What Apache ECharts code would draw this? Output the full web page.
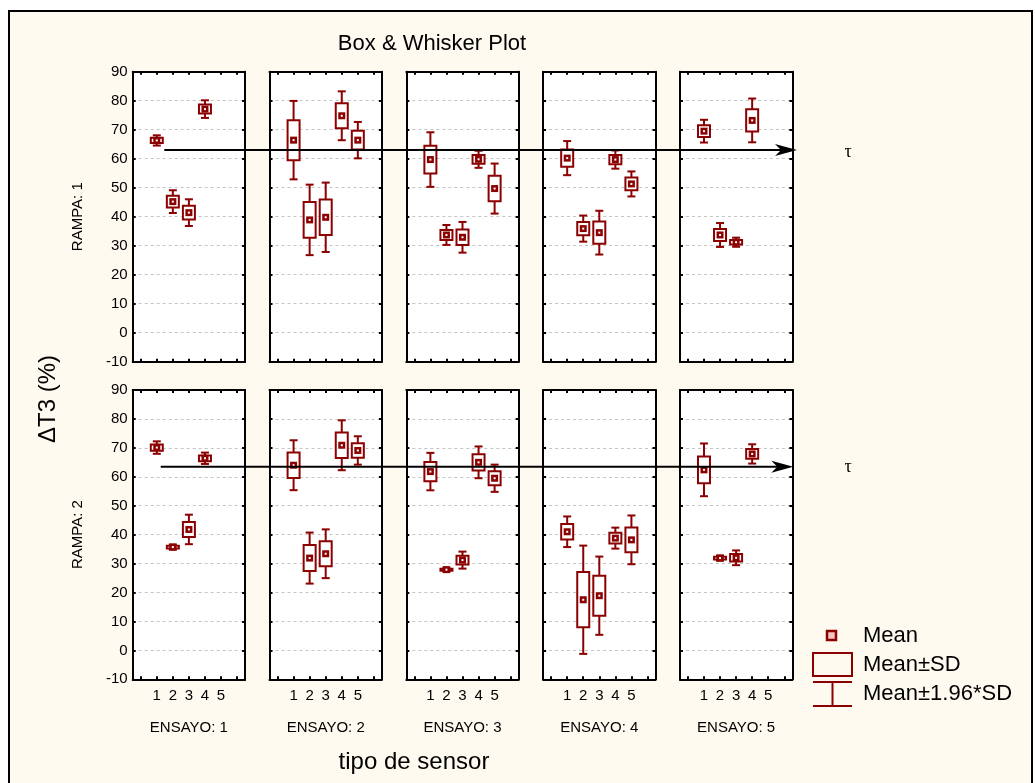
<!DOCTYPE html>
<html>
<head>
<meta charset="utf-8">
<script src="https://cdn.jsdelivr.net/npm/echarts@6/dist/echarts.min.js"></script>
<style>
html, body { margin: 0; padding: 0; background: #fff; }
#marco { position: absolute; left: 8px; top: 10px; width: 1021px; height: 800px; border: 2px solid #000; background: #fffaf0; }
#chart { position: absolute; left: 0; top: 0; width: 1035px; height: 783px; }
</style>
</head>
<body>
<div id="marco"></div>
<div id="chart"></div>
<script>
// Box & Whisker: media y desviación estándar por sensor
var sensores = ['0', '1', '2', '3', '4', '5', '6'];   // 0 y 6 son huecos en los bordes
var ensayos = ['ENSAYO: 1', 'ENSAYO: 2', 'ENSAYO: 3', 'ENSAYO: 4', 'ENSAYO: 5'];
var rampas = ['RAMPA: 1', 'RAMPA: 2'];
var yMin = -10, yMax = 90, yPaso = 10;
var tau = [63, 63.5];

// filas = ensayo, columnas = sensor 1..5
var media1 = [
    [66.3, 45.2, 41.4, 77.1, null],
    [66.4, 38.9, 39.8, 74.8, 66.4],
    [59.7, 33.7, 32.9, 59.8, 49.7],
    [60.2, 35.9, 34.5, 59.7, 51.3],
    [69.5, 33.7, 31.2, 73.2, null]
];
var de1 = [
    [0.9, 2.0, 2.35, 1.55, null],
    [6.9, 6.2, 6.1, 4.3, 3.2],
    [4.8, 1.75, 2.7, 1.5, 4.4],
    [3.0, 2.3, 3.85, 1.6, 2.2],
    [2.0, 2.1, 0.8, 3.85, null]
];
var media2 = [
    [70.1, 35.7, 41.8, 66.4, null],
    [64.0, 31.9, 33.4, 70.9, 69.1],
    [61.8, 27.9, 31.2, 65.0, 59.5],
    [41.0, 17.5, 18.9, 38.8, 38.2],
    [62.4, 31.9, 32.0, 67.9, null]
];
var de2 = [
    [1.1, 0.45, 2.6, 1.0, null],
    [4.4, 4.5, 4.3, 4.4, 2.5],
    [3.3, 0.35, 1.5, 2.8, 2.4],
    [2.7, 9.55, 6.9, 1.85, 4.3],
    [4.65, 0.45, 1.3, 1.7, null]
];
var medias = [media1, media2];
var des = [de1, de2];

(function () {
    var myChart = echarts.init(document.getElementById('chart'));
    var rojo = '#8b0000';
    var fuente = 'Liberation Sans, Arial, sans-serif';
    var filaTop = [71.7, 390], filaAlto = [290, 289.3];
    var colX0 = 132.7, colPaso = 136.8, colAncho = 112.4;

    // dibuja caja (media±DE), bigotes (media±1.96*DE) y la media
    function dibujaCaja(params, api) {
        var s = api.value(0), m = api.value(1), d = api.value(2);
        var c = api.coord([s, m]);
        var yS1 = api.coord([s, m + d])[1], yS2 = api.coord([s, m - d])[1];
        var yW1 = api.coord([s, m + 1.96 * d])[1], yW2 = api.coord([s, m - 1.96 * d])[1];
        var x = c[0], bw = 6, cw = 4;
        var lin = { stroke: rojo, lineWidth: 2 };
        return {
            type: 'group',
            children: [
                { type: 'line', shape: { x1: x, y1: yW1, x2: x, y2: yS1 }, style: lin },
                { type: 'line', shape: { x1: x, y1: yS2, x2: x, y2: yW2 }, style: lin },
                { type: 'line', shape: { x1: x - cw, y1: yW1, x2: x + cw, y2: yW1 }, style: lin },
                { type: 'line', shape: { x1: x - cw, y1: yW2, x2: x + cw, y2: yW2 }, style: lin },
                { type: 'rect', shape: { x: x - bw, y: yS1, width: 2 * bw, height: yS2 - yS1 }, style: { fill: '#fff', stroke: rojo, lineWidth: 2 } },
                { type: 'rect', shape: { x: x - 3.5, y: c[1] - 3.5, width: 7, height: 7 }, style: { fill: rojo } },
                { type: 'rect', shape: { x: x - 1, y: c[1] - 1, width: 2, height: 2 }, style: { fill: '#fff' } }
            ]
        };
    }

    // flecha horizontal en tau
    function dibujaFlecha(params, api) {
        var t = api.value(1);
        var p0 = api.coord([0, t]), p1 = api.coord([1, t]);
        var y = p0[1];
        return {
            type: 'group',
            children: [
                { type: 'line', shape: { x1: p0[0], y1: y, x2: p1[0] - 14, y2: y }, style: { stroke: '#000', lineWidth: 2 } },
                { type: 'polygon', shape: { points: [[p1[0], y], [p1[0] - 22, y - 6], [p1[0] - 16, y], [p1[0] - 22, y + 6]] }, style: { fill: '#000' } }
            ]
        };
    }

    var grids = [], xAxes = [], yAxes = [], series = [];
    var tick = { show: true, inside: true, length: 3, lineStyle: { color: '#000', width: 2 } };
    var eje = { show: true, onZero: false, lineStyle: { color: '#000', width: 2 } };

    for (var r = 0; r < 2; r++) {
        for (var c = 0; c < 5; c++) {
            var g = grids.length;
            grids.push({
                left: colX0 + c * colPaso, top: filaTop[r], width: colAncho, height: filaAlto[r],
                show: true, backgroundColor: '#fff', borderWidth: 0
            });
            var xi = xAxes.length, yi = yAxes.length;
            xAxes.push({
                gridIndex: g, type: 'category', data: sensores, position: 'bottom', boundaryGap: true,
                axisLine: eje,
                axisTick: { show: true, inside: true, length: 3, alignWithLabel: true, interval: 0, lineStyle: { color: '#000', width: 2 } },
                axisLabel: {
                    show: r === 1, interval: 0, color: '#000', fontSize: 15, fontFamily: fuente, margin: 9,
                    formatter: function (v) { return (v === '0' || v === '6') ? '' : v; }
                },
                splitLine: { show: false }
            });
            xAxes.push({
                gridIndex: g, type: 'category', data: sensores, position: 'top', boundaryGap: true,
                axisLine: eje,
                axisTick: { show: true, inside: true, length: 3, alignWithLabel: true, interval: 0, lineStyle: { color: '#000', width: 2 } },
                axisLabel: { show: false }, splitLine: { show: false }
            });
            yAxes.push({
                gridIndex: g, type: 'value', min: yMin, max: yMax, interval: yPaso, position: 'left',
                axisLine: eje, axisTick: tick,
                axisLabel: { show: c === 0, color: '#000', fontSize: 15, fontFamily: fuente, margin: 5 },
                splitLine: { show: true, lineStyle: { color: '#c4c4c4', type: [3, 3], width: 1 } }
            });
            yAxes.push({
                gridIndex: g, type: 'value', min: yMin, max: yMax, interval: yPaso, position: 'right',
                axisLine: eje, axisTick: tick, axisLabel: { show: false }, splitLine: { show: false }
            });
            var datos = [];
            for (var s = 0; s < 5; s++) {
                if (medias[r][c][s] != null) datos.push([s + 1, medias[r][c][s], des[r][c][s]]);
            }
            series.push({
                type: 'custom', xAxisIndex: xi, yAxisIndex: yi, renderItem: dibujaCaja,
                encode: { x: 0, y: 1 }, data: datos, silent: true, clip: false
            });
        }
    }

    // rejillas invisibles para las flechas de tau
    var flechaX = [[164.3, 797], [160.7, 793.3]];
    for (var r2 = 0; r2 < 2; r2++) {
        var g2 = grids.length;
        grids.push({ left: flechaX[r2][0], top: filaTop[r2], width: flechaX[r2][1] - flechaX[r2][0], height: filaAlto[r2] });
        var xi2 = xAxes.length, yi2 = yAxes.length;
        xAxes.push({ gridIndex: g2, type: 'value', min: 0, max: 1, show: false });
        yAxes.push({ gridIndex: g2, type: 'value', min: yMin, max: yMax, show: false });
        series.push({
            type: 'custom', xAxisIndex: xi2, yAxisIndex: yi2, renderItem: dibujaFlecha,
            data: [[0, tau[r2]]], silent: true, clip: false, z: 10
        });
    }

    var textos = [
        { type: 'text', x: 432, y: 44, style: { text: 'Box & Whisker Plot', font: '22px ' + fuente, fill: '#000', align: 'center', verticalAlign: 'middle' } },
        { type: 'text', x: 48, y: 399, rotation: Math.PI / 2, style: { text: '\u0394T3 (%)', font: '24px ' + fuente, fill: '#000', align: 'center', verticalAlign: 'middle' } },
        { type: 'text', x: 414, y: 762, style: { text: 'tipo de sensor', font: '24px ' + fuente, fill: '#000', align: 'center', verticalAlign: 'middle' } },
        { type: 'text', x: 848, y: 152, style: { text: '\u03c4', font: '18px Liberation Serif, serif', fill: '#000', align: 'center', verticalAlign: 'middle' } },
        { type: 'text', x: 848, y: 467, style: { text: '\u03c4', font: '18px Liberation Serif, serif', fill: '#000', align: 'center', verticalAlign: 'middle' } },
        // leyenda
        { type: 'rect', shape: { x: 827, y: 631, width: 9, height: 9 }, style: { fill: '#f2c4c4', stroke: rojo, lineWidth: 2.5 } },
        { type: 'rect', shape: { x: 813, y: 653, width: 39, height: 23 }, style: { fill: 'none', stroke: rojo, lineWidth: 2 } },
        { type: 'line', shape: { x1: 813, y1: 682, x2: 852, y2: 682 }, style: { stroke: rojo, lineWidth: 2 } },
        { type: 'line', shape: { x1: 813, y1: 706, x2: 852, y2: 706 }, style: { stroke: rojo, lineWidth: 2 } },
        { type: 'line', shape: { x1: 832.5, y1: 682, x2: 832.5, y2: 706 }, style: { stroke: rojo, lineWidth: 2 } },
        { type: 'text', x: 863, y: 636, style: { text: 'Mean', font: '22px ' + fuente, fill: '#000', verticalAlign: 'middle' } },
        { type: 'text', x: 863, y: 665, style: { text: 'Mean\u00b1SD', font: '22px ' + fuente, fill: '#000', verticalAlign: 'middle' } },
        { type: 'text', x: 863, y: 694, style: { text: 'Mean\u00b11.96*SD', font: '22px ' + fuente, fill: '#000', verticalAlign: 'middle' } }
    ];
    for (var i = 0; i < 2; i++) {
        textos.push({ type: 'text', x: 78, y: filaTop[i] + filaAlto[i] / 2, rotation: Math.PI / 2,
            style: { text: rampas[i], font: '15px ' + fuente, fill: '#000', align: 'center', verticalAlign: 'middle' } });
    }
    for (var j = 0; j < 5; j++) {
        textos.push({ type: 'text', x: colX0 + j * colPaso + colAncho / 2, y: 727.5,
            style: { text: ensayos[j], font: '15px ' + fuente, fill: '#000', align: 'center', verticalAlign: 'middle' } });
    }

    var option = {
        animation: false,
        grid: grids,
        xAxis: xAxes,
        yAxis: yAxes,
        series: series,
        graphic: textos
    };
    myChart.setOption(option);

    window.addEventListener('resize', function () {
        myChart.resize();
    });
})();
</script>
</body>
</html>
